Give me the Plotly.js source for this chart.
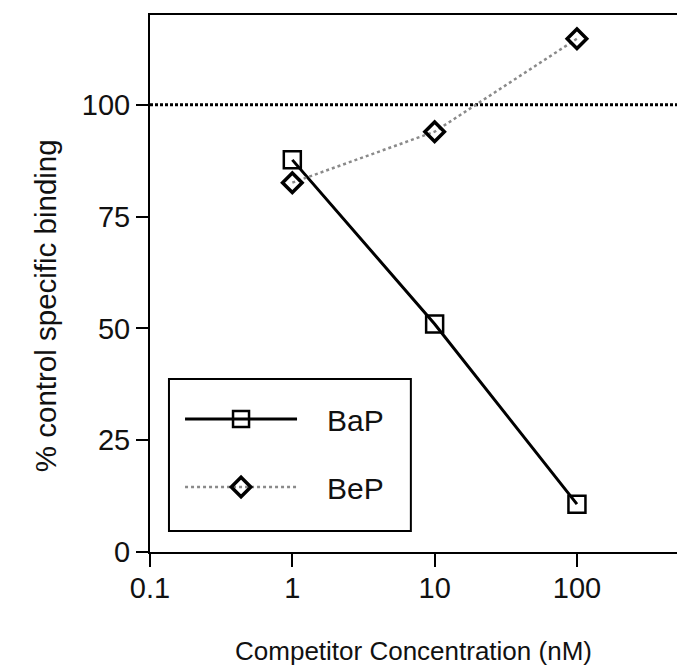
<!DOCTYPE html>
<html>
<head>
<meta charset="utf-8">
<script src="https://cdn.plot.ly/plotly-3.0.1.min.js"></script>
<style>
  html, body { margin: 0; padding: 0; background: #fff; }
  #chart { width: 677px; height: 672px; }
</style>
</head>
<body>
<div id="chart"></div>
<script>
// ---- data ----
const concentrations = [1, 10, 100];           // nM
const bapValues = [87.7, 51.0, 10.7];          // BaP, % control specific binding
const bepValues = [82.6, 94.0, 114.8];         // BeP, % control specific binding
const seriesNames = ['BaP', 'BeP'];
const referenceLevel = 100;                    // control level
const xTickValues = [0.1, 1, 10, 100];
const xTickLabels = ['0.1', '1', '10', '100'];
const yTickValues = [0, 25, 50, 75, 100];
const yTickLabels = ['0', '25', '50', '75', '100'];
const xTitle = 'Competitor Concentration (nM)';
const yTitle = '% control specific binding';

const FONT = 'Liberation Sans, Arial, Helvetica, sans-serif';
const INK = '#111';
const pad = '\u00a0\u00a0\u00a0';

const traces = [
  {
    x: concentrations, y: bapValues, name: pad + seriesNames[0],
    type: 'scatter', mode: 'lines+markers',
    legendgroup: 'a',
    line: { color: '#000', width: 3 },
    marker: { symbol: 'square-open', size: 17, color: '#000', line: { width: 2.5, color: '#000' } }
  },
  {
    x: concentrations, y: bepValues, name: pad + seriesNames[1],
    type: 'scatter', mode: 'lines+markers',
    legendgroup: 'b',
    line: { color: '#8a8a8a', width: 2.5, dash: 'dot' },
    marker: { symbol: 'diamond-open', size: 15, color: '#000', line: { width: 3.5, color: '#000' } }
  }
];

const layout = {
  width: 677, height: 672,
  margin: { l: 150, r: 0, t: 15, b: 120 },
  paper_bgcolor: '#fff', plot_bgcolor: '#fff',
  font: { family: FONT, size: 30, color: INK },
  showlegend: true,
  legend: {
    x: 0.057, y: 0.296, xanchor: 'left', yanchor: 'top',
    bgcolor: 'rgba(0,0,0,0)', borderwidth: 0,
    font: { family: FONT, size: 30, color: INK },
    itemwidth: 112, tracegroupgap: 26, traceorder: 'grouped'
  },
  xaxis: {
    type: 'log', range: [-1, 2.703],
    tickvals: xTickValues, ticktext: xTickLabels,
    ticks: 'outside', ticklen: 13, tickwidth: 2, tickcolor: '#000',
    ticklabelstandoff: -4,
    showline: true, linewidth: 2, linecolor: '#000', mirror: true,
    showgrid: false, zeroline: false,
    tickfont: { family: FONT, size: 29, color: INK },
    title: { text: xTitle, font: { family: FONT, size: 26, color: INK }, standoff: 39 }
  },
  yaxis: {
    range: [0, 120.1],
    tickvals: yTickValues, ticktext: yTickLabels,
    ticks: 'outside', ticklen: 12, tickwidth: 2, tickcolor: '#000',
    showline: true, linewidth: 2, linecolor: '#000',
    showgrid: false, zeroline: false,
    tickfont: { family: FONT, size: 29, color: INK }
  },
  shapes: [
    {
      type: 'line', xref: 'paper', x0: 0, x1: 1, yref: 'y', y0: referenceLevel, y1: referenceLevel,
      line: { color: '#000', width: 3, dash: '3px,2px' }, layer: 'below'
    },
    {
      // legend frame
      type: 'rect', xref: 'paper', yref: 'paper',
      x0: 0.036, x1: 0.495, y0: 0.039, y1: 0.322,
      line: { color: '#000', width: 2 }, fillcolor: '#fff', layer: 'below'
    }
  ],
  annotations: [
    {
      text: yTitle, textangle: -90, xref: 'paper', yref: 'paper',
      x: -0.199, y: 0.458, xanchor: 'center', yanchor: 'middle', showarrow: false,
      font: { family: FONT, size: 29.5, color: INK }
    }
  ]
};

Plotly.newPlot('chart', traces, layout, { displayModeBar: false, staticPlot: true });
</script>
</body>
</html>
